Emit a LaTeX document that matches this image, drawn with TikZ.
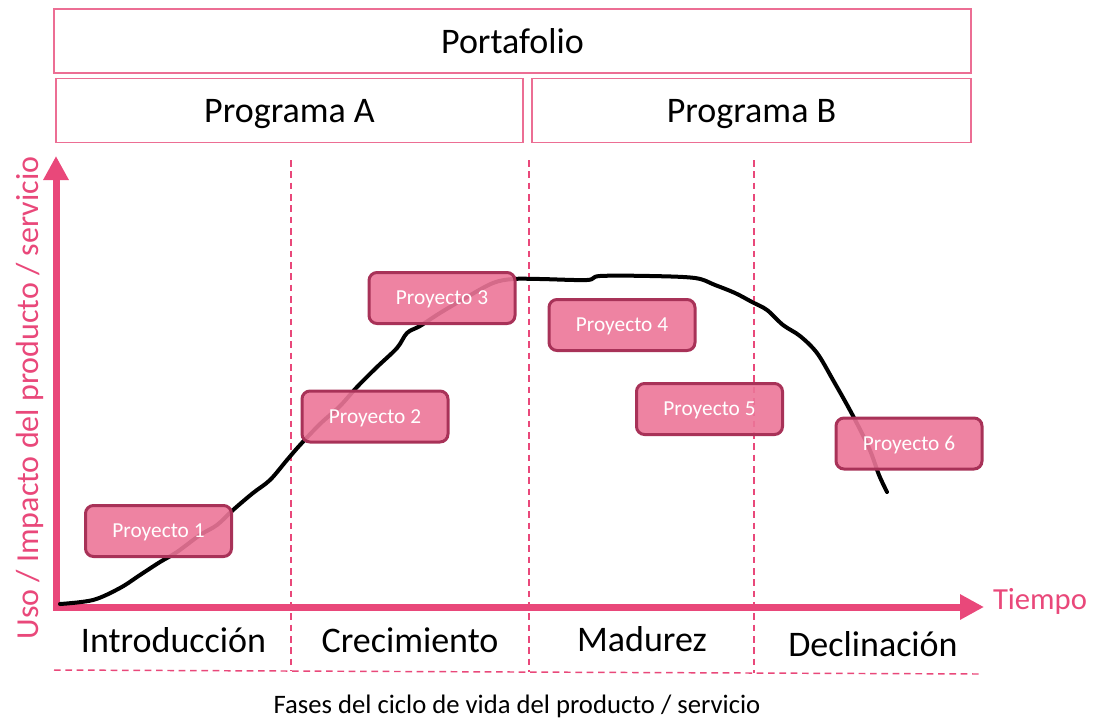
\documentclass[tikz,border=0pt]{standalone}
\usepackage{fontspec}
\setmainfont{Carlito}
\usepackage{xcolor}
\usepackage{tikz}
\usetikzlibrary{arrows.meta}
\definecolor{axispink}{RGB}{233,72,122}
\definecolor{boxline}{RGB}{236,110,148}
\definecolor{projfill}{RGB}{236,118,152}
\definecolor{projline}{RGB}{168,50,88}

\begin{document}
\begin{tikzpicture}[x=0.75pt,y=-0.75pt,
  prog node/.style={draw=boxline,line width=1.1pt,minimum height=48pt,inner sep=0pt,font=\fontsize{27}{30}\selectfont},
  proj node/.style={draw=projline,fill=projfill,fill opacity=0.9,text opacity=1,text=white,line width=2.25pt,
    rounded corners=6pt,minimum width=109.5pt,minimum height=38.25pt,inner sep=0pt,
    text height=11.5pt,text depth=1.5pt,font=\fontsize{16}{18}\selectfont},
  phase node/.style={inner sep=0pt,font=\fontsize{27}{30}\selectfont},
  divider/.style={draw=axispink,line width=1.1pt,dash pattern=on 5pt off 3.5pt},
  axis line/.style={draw=axispink,line width=5.25pt,line join=miter,
    {Triangle[length=18pt,width=18pt]}-{Triangle[length=18pt,width=18pt]}}]

\useasboundingbox (0,0) rectangle (1094,718);

\node[prog node,minimum width=687.75pt] (portafolio) at (512.5,41) {Portafolio};
\node[prog node,minimum width=350.25pt,text height=20pt,text depth=2pt] (progA) at (289.5,110.5) {Programa A};
\node[prog node,minimum width=329.25pt,text height=20pt,text depth=2pt] (progB) at (751.5,110.5) {Programa B};

\coordinate (d1t) at (291,160); \coordinate (d1b) at (291,671);
\coordinate (d2t) at (529,160); \coordinate (d2b) at (529,672);
\coordinate (d3t) at (754,160); \coordinate (d3b) at (754,673);
\coordinate (fl) at (54,670); \coordinate (fr) at (980,674);
\draw[divider] (d1t) -- (d1b);
\draw[divider] (d2t) -- (d2b);
\draw[divider] (d3t) -- (d3b);
\draw[divider] (fl) -- (fr);

\coordinate (origin) at (56,607);
\coordinate (ytip) at (56,156);
\coordinate (xtip) at (984,607);
\draw[axis line] (ytip) -- (origin) -- (xtip);

\draw[line width=3pt,line cap=round,line join=round] plot[smooth,tension=0.55] coordinates {
  (60,604) (93,600) (120,588) (140,575) (160,562) (177,552) (200,535) (217,525)
  (233,510) (253,493) (270,480) (287,460) (300,445) (320,424) (340,406) (357,387)
  (377,367) (397,348) (407,333) (420,326) (440,313) (467,297) (493,283) (513,279)
  (540,279) (587,280) (600,276) (650,276) (695,278) (715,285) (735,293) (752,302)
  (767,310) (783,325) (800,336) (817,353) (833,380) (852,414) (869,448) (879,475)
  (887,492)};

\node[proj node] (p1) at (158.5,531) {Proyecto 1};
\node[proj node] (p2) at (375,416.5) {Proyecto 2};
\node[proj node] (p3) at (442,298) {Proyecto 3};
\node[proj node] (p4) at (622,325) {Proyecto 4};
\node[proj node] (p5) at (709.5,409) {Proyecto 5};
\node[proj node] (p6) at (909,443.5) {Proyecto 6};

\node[phase node] (intro) at (173.5,640) {Introducción};
\node[phase node] (crec) at (410,640) {Crecimiento};
\node[phase node] (madur) at (642,639) {Madurez};
\node[phase node] (decl) at (873,644) {Declinación};

\node[inner sep=0pt,text=axispink,font=\fontsize{23}{26}\selectfont] (tiempo) at (1040,601) {Tiempo};
\node[inner sep=0pt,rotate=90,text=axispink,font=\fontsize{24}{27}\selectfont] (ylabel) at (30,398)
  {Uso / Impacto del producto / servicio};
\node[inner sep=0pt,font=\fontsize{20}{23}\selectfont] (fases) at (517,706)
  {Fases del ciclo de vida del producto / servicio};

\end{tikzpicture}
\end{document}
